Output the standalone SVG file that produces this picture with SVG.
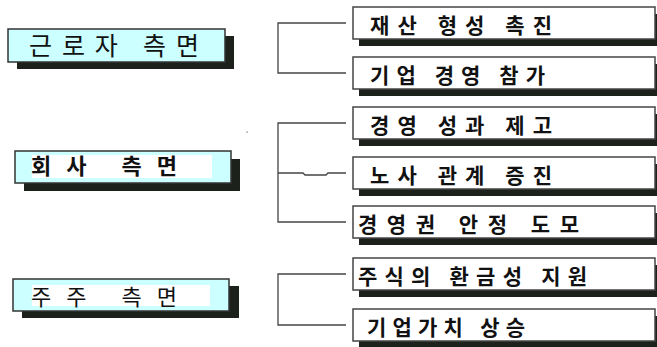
<svg xmlns="http://www.w3.org/2000/svg" width="657" height="347" viewBox="0 0 657 347">
<style>
.shadow{fill:#1c211c}
.lbox{fill:#ccffff;stroke:#333;stroke-width:1.5}
.rbox{fill:#fff;stroke:#444;stroke-width:1.5}
.inner{fill:#fff}
.ltxt{font-family:"Noto Sans CJK KR","Noto Sans",sans-serif;fill:#111}
.rtxt{font-family:"Noto Sans CJK KR","Noto Sans",sans-serif;font-weight:bold;font-size:21px;fill:#111}
.conn{fill:none;stroke:#444;stroke-width:1.3}
</style>
<rect width="657" height="347" fill="#fff"/>
<g id="worker">
<rect class="shadow" x="17" y="36" width="217" height="33"/>
<rect class="lbox" x="8" y="29" width="217" height="33"/>
<text class="ltxt" x="29" y="55" font-size="25" textLength="170" lengthAdjust="spacing">근로자 측면</text>
</g>
<g id="company">
<rect class="shadow" x="24" y="159" width="216" height="32"/>
<rect class="lbox" x="15" y="151" width="216" height="32"/>
<rect class="inner" x="32" y="155" width="180" height="23"/>
<text class="ltxt" x="31" y="174" font-size="22" font-weight="bold" textLength="146" lengthAdjust="spacing">회사 측면</text>
</g>
<g id="shareholder">
<rect class="shadow" x="22" y="286" width="217" height="32"/>
<rect class="lbox" x="13" y="279" width="216" height="32"/>
<rect class="inner" x="32" y="285" width="178" height="21"/>
<text class="ltxt" x="31" y="305" font-size="22" textLength="146" lengthAdjust="spacing">주주 측면</text>
</g>
<rect x="246.5" y="131.5" width="1.2" height="1.2" fill="#666"/>
<g id="connectors">
<path class="conn" d="M346,23 H278 V73 H346"/>
<path class="conn" d="M346,123 H278 V222 H346 M278,173 H303 L305,175 H326 L328,173 H346"/>
<path class="conn" d="M346,274 H278 V325 H346"/>
</g>
<g id="r1">
<rect class="shadow" x="359" y="14" width="302" height="32"/>
<rect class="rbox" x="353" y="7" width="302" height="32"/>
<text class="rtxt" x="370" y="33" textLength="182" lengthAdjust="spacing">재산 형성 촉진</text>
</g>
<g id="r2">
<rect class="shadow" x="359" y="64" width="302" height="32"/>
<rect class="rbox" x="353" y="57" width="302" height="32"/>
<text class="rtxt" x="370" y="83" textLength="175" lengthAdjust="spacing">기업 경영 참가</text>
</g>
<g id="r3">
<rect class="shadow" x="359" y="114" width="302" height="32"/>
<rect class="rbox" x="353" y="107" width="302" height="32"/>
<text class="rtxt" x="370" y="133" textLength="182" lengthAdjust="spacing">경영 성과 제고</text>
</g>
<g id="r4">
<rect class="shadow" x="359" y="164" width="302" height="32"/>
<rect class="rbox" x="353" y="157" width="302" height="32"/>
<text class="rtxt" x="370" y="183" textLength="182" lengthAdjust="spacing">노사 관계 증진</text>
</g>
<g id="r5">
<rect class="shadow" x="359" y="213" width="302" height="32"/>
<rect class="rbox" x="353" y="206" width="302" height="32"/>
<text class="rtxt" x="358" y="232" textLength="221" lengthAdjust="spacing">경영권 안정 도모</text>
</g>
<g id="r6">
<rect class="shadow" x="359" y="265" width="302" height="32"/>
<rect class="rbox" x="353" y="258" width="302" height="32"/>
<text class="rtxt" x="358" y="284" textLength="229" lengthAdjust="spacing">주식의 환금성 지원</text>
</g>
<g id="r7">
<rect class="shadow" x="359" y="316" width="302" height="32"/>
<rect class="rbox" x="353" y="309" width="302" height="32"/>
<text class="rtxt" x="367" y="335" textLength="158" lengthAdjust="spacing">기업가치 상승</text>
</g>
</svg>
